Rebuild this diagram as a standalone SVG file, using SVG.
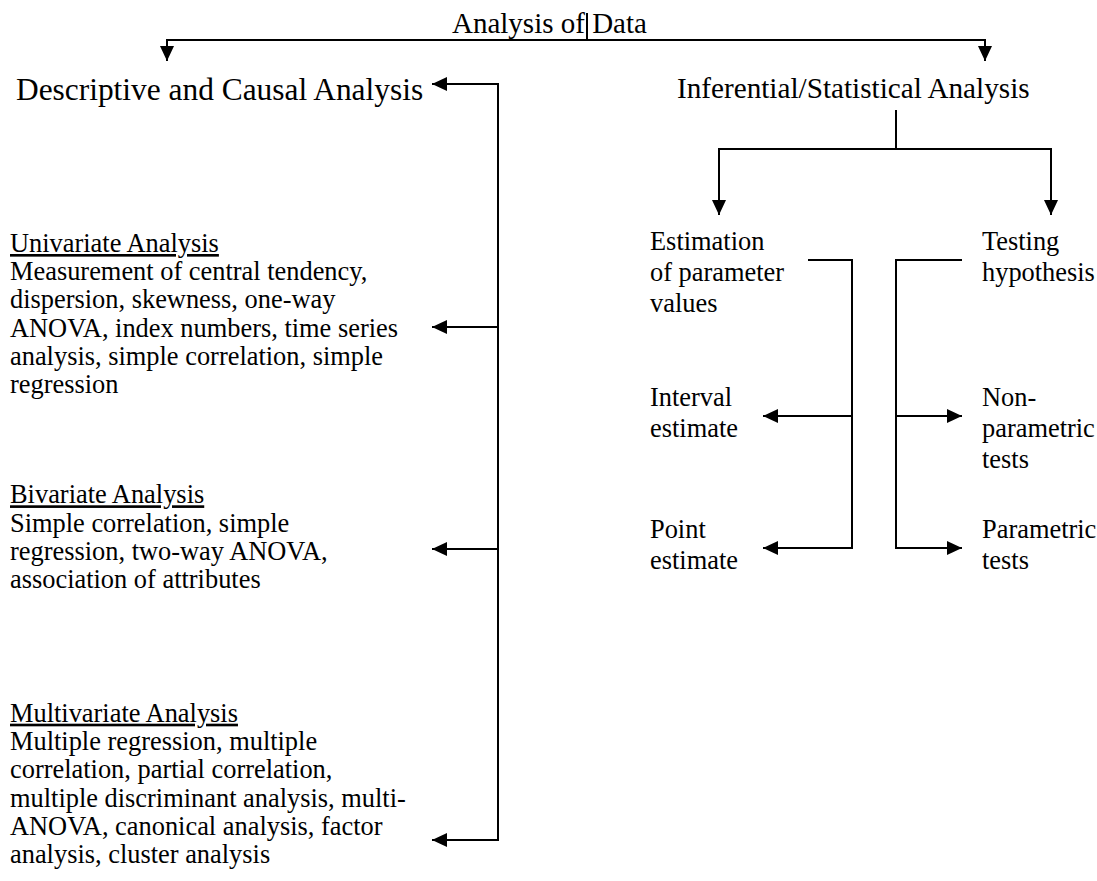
<svg xmlns="http://www.w3.org/2000/svg" width="1097" height="881" viewBox="0 0 1097 881">
<style>
text{font-family:"Liberation Serif","Times New Roman",serif;fill:#000}
.b{font-size:26.4px}
.u{text-decoration:underline}
.ln{fill:none;stroke:#000;stroke-width:2}
</style>
<defs>
<marker id="ah" viewBox="0 0 15 14" refX="15" refY="7" markerWidth="15" markerHeight="14" markerUnits="userSpaceOnUse" orient="auto-start-reverse">
<path d="M0,0 L15,7 L0,14 Z" fill="#000"/>
</marker>
</defs>
<rect width="1097" height="881" fill="#fff"/>
<g id="connectors">
<line class="ln" x1="587" y1="13" x2="587" y2="40"/>
<polyline class="ln" points="167,61 167,40 985,40 985,61" marker-start="url(#ah)" marker-end="url(#ah)"/>
<polyline class="ln" points="432,84 498,84 498,840 432,840" marker-start="url(#ah)" marker-end="url(#ah)"/>
<line class="ln" x1="498" y1="327" x2="432" y2="327" marker-end="url(#ah)"/>
<line class="ln" x1="498" y1="549" x2="432" y2="549" marker-end="url(#ah)"/>
<line class="ln" x1="896" y1="110" x2="896" y2="149"/>
<polyline class="ln" points="719,215 719,149 1051,149 1051,215" marker-start="url(#ah)" marker-end="url(#ah)"/>
<polyline class="ln" points="808,260 852,260 852,548 763,548" marker-end="url(#ah)"/>
<line class="ln" x1="852" y1="416" x2="763" y2="416" marker-end="url(#ah)"/>
<polyline class="ln" points="962,260 896,260 896,548 962,548" marker-end="url(#ah)"/>
<line class="ln" x1="896" y1="416" x2="962" y2="416" marker-end="url(#ah)"/>
</g>
<g id="root"><text x="452" y="33" font-size="29">Analysis of Data</text></g>
<g id="descriptive"><text x="16" y="100" font-size="31.4">Descriptive and Causal Analysis</text></g>
<g id="inferential"><text x="677" y="98" font-size="29.2">Inferential/Statistical Analysis</text></g>
<g id="univariate">
<text x="10" y="252" class="b u">Univariate Analysis</text>
<text x="10" y="280" class="b">Measurement of central tendency,</text>
<text x="10" y="308.3" class="b">dispersion, skewness, one-way</text>
<text x="10" y="336.7" class="b">ANOVA, index numbers, time series</text>
<text x="10" y="365" class="b">analysis, simple correlation, simple</text>
<text x="10" y="393.3" class="b">regression</text>
</g>
<g id="bivariate">
<text x="10" y="503.3" class="b u">Bivariate Analysis</text>
<text x="10" y="531.7" class="b">Simple correlation, simple</text>
<text x="10" y="560" class="b">regression, two-way ANOVA,</text>
<text x="10" y="588.3" class="b">association of attributes</text>
</g>
<g id="multivariate">
<text x="10" y="721.7" class="b u">Multivariate Analysis</text>
<text x="10" y="750" class="b">Multiple regression, multiple</text>
<text x="10" y="778.3" class="b">correlation, partial correlation,</text>
<text x="10" y="806.7" class="b">multiple discriminant analysis, multi-</text>
<text x="10" y="835" class="b">ANOVA, canonical analysis, factor</text>
<text x="10" y="863.3" class="b">analysis, cluster analysis</text>
</g>
<g id="estimation">
<text x="650" y="250" class="b">Estimation</text>
<text x="650" y="281" class="b">of parameter</text>
<text x="650" y="312" class="b">values</text>
</g>
<g id="testing">
<text x="982" y="250" class="b">Testing</text>
<text x="982" y="281" class="b">hypothesis</text>
</g>
<g id="interval">
<text x="650" y="406" class="b">Interval</text>
<text x="650" y="437" class="b">estimate</text>
</g>
<g id="point">
<text x="650" y="538" class="b">Point</text>
<text x="650" y="569" class="b">estimate</text>
</g>
<g id="nonparametric">
<text x="982" y="406" class="b">Non-</text>
<text x="982" y="437" class="b">parametric</text>
<text x="982" y="468" class="b">tests</text>
</g>
<g id="parametric">
<text x="982" y="538" class="b">Parametric</text>
<text x="982" y="569" class="b">tests</text>
</g>
</svg>
